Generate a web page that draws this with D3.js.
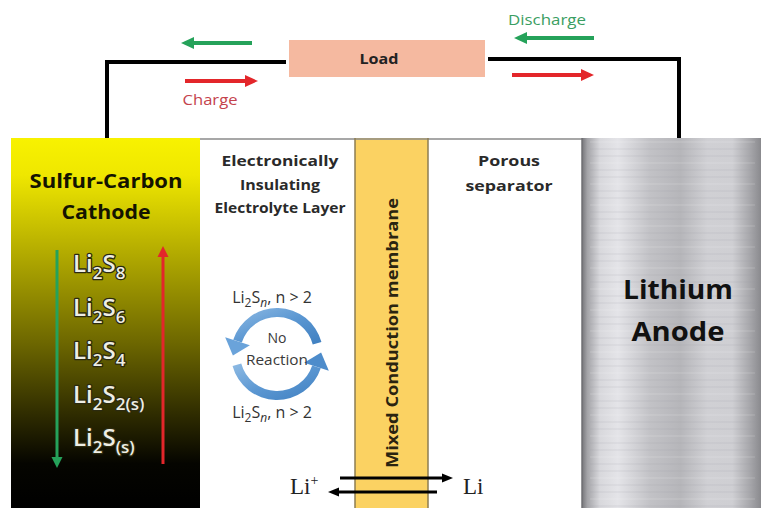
<!DOCTYPE html>
<html><head><meta charset="utf-8">
<script src="https://cdn.jsdelivr.net/npm/d3@7"></script>
<style>html,body{margin:0;padding:0;background:#fff;}svg{display:block;}</style>
</head><body>
<svg id="c" width="761" height="508"></svg>
<script>
// ---- data ----
const layerNames = ["Sulfur-Carbon Cathode", "Electronically Insulating Electrolyte Layer", "Mixed Conduction membrane", "Porous separator", "Lithium Anode"];
const layerThickness = [189, 155, 73, 154, 179];   // relative thickness of each layer
const cathodeTitle = ["Sulfur-Carbon", "Cathode"];
const electrolyteTitle = ["Electronically", "Insulating", "Electrolyte Layer"];
const separatorTitle = ["Porous", "separator"];
const anodeTitle = ["Lithium", "Anode"];
const membraneTitle = "Mixed Conduction membrane";
const speciesSub1 = ["2", "2", "2", "2", "2"];
const speciesSub2 = ["8", "6", "4", "2(s)", "(s)"];
const loadLabel = "Load";
const flowLabels = ["Charge", "Discharge"];
const cycleLabels = ["No", "Reaction"];
const ionLabels = ["Li", "+", "Li"];

const W = 761, H = 508;
const svg = d3.select("#c");
const defs = svg.append("defs");

// gradients
const cg = defs.append("linearGradient").attr("id","cathG").attr("x1",0).attr("y1",0).attr("x2",0).attr("y2",1);
[[0,"#f8f200"],[0.1,"#efe700"],[0.3,"#b6ae00"],[0.55,"#6e6800"],[0.75,"#2e2b00"],[0.88,"#050500"],[1,"#000"]]
  .forEach(s=>cg.append("stop").attr("offset",s[0]).attr("stop-color",s[1]));
const ag = defs.append("linearGradient").attr("id","anG").attr("x1",0).attr("y1",0).attr("x2",1).attr("y2",0);
[[0,"#76767a"],[0.03,"#a4a4a8"],[0.1,"#d8d8dc"],[0.2,"#e4e4e8"],[0.38,"#c2c2c6"],[0.55,"#b6b6ba"],[0.7,"#d0d0d4"],[0.84,"#cfcfd3"],[0.94,"#a6a6aa"],[1,"#8a8a8e"]]
  .forEach(s=>ag.append("stop").attr("offset",s[0]).attr("stop-color",s[1]));
const bg = defs.append("linearGradient").attr("id","blG").attr("x1",0).attr("y1",0).attr("x2",1).attr("y2",1);
[[0,"#8fbbe4"],[0.5,"#5b97d2"],[1,"#3f7fc0"]].forEach(s=>bg.append("stop").attr("offset",s[0]).attr("stop-color",s[1]));

// scales
const cum = [0]; layerThickness.forEach(t=>cum.push(cum[cum.length-1]+t));
const x = d3.scaleLinear().domain([0, cum[cum.length-1]]).range([11, W]);
const cellTop = 138, cellBottom = H;

const FONT = "'Open Sans', Lato, sans-serif";
function fit(sel, len){ return sel.attr("textLength",len).attr("lengthAdjust","spacingAndGlyphs"); }

// helper arrow
function arrow(g, x1, y1, x2, y2, color, sw, hl, hw){
  const dx=x2-x1, dy=y2-y1, L=Math.hypot(dx,dy), ux=dx/L, uy=dy/L;
  const bx=x2-ux*hl, by=y2-uy*hl;
  g.append("line").attr("x1",x1).attr("y1",y1).attr("x2",bx+ux*1).attr("y2",by+uy*1)
    .attr("stroke",color).attr("stroke-width",sw);
  g.append("path").attr("d",`M${x2},${y2}L${bx-uy*hw/2},${by+ux*hw/2}L${bx+uy*hw/2},${by-ux*hw/2}Z`).attr("fill",color);
}

// layers
const lay = svg.append("g");
const fills = ["url(#cathG)", "#ffffff", "#fbd262", "#ffffff", "url(#anG)"];
lay.selectAll("rect").data(layerNames).join("rect")
  .attr("x",(d,i)=>x(cum[i])).attr("y",cellTop)
  .attr("width",(d,i)=>x(cum[i+1])-x(cum[i])).attr("height",cellBottom-cellTop)
  .attr("fill",(d,i)=>fills[i]);
// anode streaks
const streakY = d3.range(cellTop+4, cellBottom, 7);
lay.append("g").selectAll("line").data(streakY).join("line")
  .attr("x1",x(cum[4])+8).attr("x2",W-6).attr("y1",d=>d).attr("y2",d=>d)
  .attr("stroke",(d,i)=> i%3===0 ? "#ffffff" : "#9c9ca0").attr("stroke-opacity",0.2).attr("stroke-width",1);
// borders
lay.append("line").attr("x1",x(cum[1])).attr("x2",x(cum[4])).attr("y1",cellTop+1).attr("y2",cellTop+1)
  .attr("stroke","#8a8a8a").attr("stroke-width",1.5);
[cum[2],cum[3]].forEach(c=>lay.append("line").attr("x1",x(c)).attr("x2",x(c)).attr("y1",cellTop).attr("y2",H)
  .attr("stroke","#8c7d52").attr("stroke-width",1.5));
lay.append("line").attr("x1",x(cum[4])).attr("x2",x(cum[4])).attr("y1",cellTop).attr("y2",H)
  .attr("stroke","#707074").attr("stroke-width",1.5);

// circuit
const circ = svg.append("g");
circ.append("rect").attr("x",289).attr("y",40).attr("width",196).attr("height",37).attr("fill","#f5b9a0");
fit(circ.append("text").attr("x",379).attr("y",64).attr("text-anchor","middle").attr("font-family",FONT)
  .attr("font-weight","bold").attr("font-size",14.5).attr("fill","#222").text(loadLabel), 39);
circ.append("path").attr("d","M107,138V62H286").attr("fill","none").attr("stroke","#000").attr("stroke-width",4);
circ.append("path").attr("d","M488,59H679V138").attr("fill","none").attr("stroke","#000").attr("stroke-width",4);
const green="#25a25a", red="#e3262a";
arrow(circ,252,43,181,43,green,4,13,12);
arrow(circ,185,81,258,81,red,4,13,12);
arrow(circ,594,38,514,38,green,4,13,12);
arrow(circ,512,75,594,75,red,4,13,12);
fit(circ.append("text").attr("x",210).attr("y",105).attr("text-anchor","middle").attr("font-family",FONT)
  .attr("font-size",15).attr("fill","#c4424c").text(flowLabels[0]), 55);
fit(circ.append("text").attr("x",547).attr("y",25).attr("text-anchor","middle").attr("font-family",FONT)
  .attr("font-size",15).attr("fill","#3a9e62").text(flowLabels[1]), 78);

// cathode
const cat = svg.append("g");
const catLen = [153, 89];
cathodeTitle.forEach((t,i)=>fit(cat.append("text").attr("x",106).attr("y",188+i*31).attr("text-anchor","middle")
  .attr("font-family",FONT).attr("font-weight","bold").attr("font-size",20).attr("fill","#141400").text(t), catLen[i]));
arrow(cat,57,250,57,468,green,3,11,11);
arrow(cat,163,464,163,246,red,3,11,11);
const sy = d3.scalePoint().domain(speciesSub2).range([272,446]);
speciesSub2.forEach((s,i)=>{
  const t = cat.append("text").attr("x",73).attr("y",sy(s)).attr("font-family",FONT).attr("font-size",24)
    .attr("font-weight",600)
    .attr("fill","#eeeee4").attr("stroke","#2b2a10").attr("stroke-width",2.6).attr("paint-order","stroke")
    .attr("stroke-linejoin","round");
  t.append("tspan").text("Li");
  t.append("tspan").attr("dy",7).attr("font-size",17).text(speciesSub1[i]);
  t.append("tspan").attr("dy",-7).text("S");
  t.append("tspan").attr("dy",7).attr("font-size",17).text(s);
});

// electrolyte
const el = svg.append("g");
const elLen = [117, 80, 131];
electrolyteTitle.forEach((t,i)=>fit(el.append("text").attr("x",280).attr("y",166+i*23.5).attr("text-anchor","middle")
  .attr("font-family",FONT).attr("font-weight","bold").attr("font-size",15).attr("fill","#2a2a2a").text(t), elLen[i]));
function lisn(yy){
  const t = el.append("text").attr("x",272).attr("y",yy).attr("text-anchor","middle").attr("font-family",FONT)
    .attr("font-size",16).attr("fill","#333");
  t.append("tspan").text("Li");
  t.append("tspan").attr("dy",4).attr("font-size",12).text("2");
  t.append("tspan").attr("dy",-4).text("S");
  t.append("tspan").attr("dy",4).attr("font-size",12).attr("font-style","italic").text("n");
  t.append("tspan").attr("dy",-4).text(", n > 2");
}
lisn(303); lisn(418);
const cx0=277, cy0=354, rI=37, rO=46, rM=(rI+rO)/2;
const arcG = d3.arc().innerRadius(rI).outerRadius(rO);
const cyc = el.append("g").attr("transform",`translate(${cx0},${cy0})`);
const deg = Math.PI/180;
[[75,-72],[255,108]].forEach(([a0,a1])=>{
  cyc.append("path").attr("d",arcG({startAngle:a1*deg,endAngle:a0*deg})).attr("fill","url(#blG)");
  const th=a1*deg, ux=Math.sin(th), uy=-Math.cos(th);
  const px=rM*ux, py=rM*uy, tx=-Math.cos(th), ty=-Math.sin(th);
  const hw=13, hl=15;
  cyc.append("path").attr("d",`M${px+ux*hw},${py+uy*hw}L${px-ux*hw},${py-uy*hw}L${px+tx*hl},${py+ty*hl}Z`)
    .attr("fill", a0===75 ? "#6aa3da" : "#4d8ccb");
});
const cycLen = [19, 62];
cycleLabels.forEach((t,i)=>fit(el.append("text").attr("x",cx0).attr("y",343+i*22).attr("text-anchor","middle")
  .attr("font-family",FONT).attr("font-size",15).attr("fill","#3a3a3a").text(t), cycLen[i]));

// membrane
fit(svg.append("text").attr("transform",`translate(${(x(cum[2])+x(cum[3]))/2+6},333) rotate(-90)`)
  .attr("text-anchor","middle").attr("font-family",FONT).attr("font-weight","bold").attr("font-size",16)
  .attr("fill","#2a2410").text(membraneTitle), 270);

// separator
const sepLen = [62, 87];
separatorTitle.forEach((t,i)=>fit(svg.append("text").attr("x",509).attr("y",166+i*25).attr("text-anchor","middle")
  .attr("font-family",FONT).attr("font-weight","bold").attr("font-size",15).attr("fill","#2a2a2a").text(t), sepLen[i]));

// anode
const anLen = [110, 93];
anodeTitle.forEach((t,i)=>fit(svg.append("text").attr("x",678).attr("y",299+i*42).attr("text-anchor","middle")
  .attr("font-family",FONT).attr("font-weight","bold").attr("font-size",27).attr("fill","#111").text(t), anLen[i]));

// ions
const ion = svg.append("g");
const lt = ion.append("text").attr("x",290).attr("y",494).attr("font-family","'Liberation Serif', serif").attr("font-size",23).attr("fill","#222");
lt.append("tspan").text(ionLabels[0]);
lt.append("tspan").attr("dy",-9).attr("font-size",14).text(ionLabels[1]);
ion.append("text").attr("x",463).attr("y",494).attr("font-family","'Liberation Serif', serif").attr("font-size",23).attr("fill","#222").text(ionLabels[2]);
arrow(ion,340,478,453,478,"#000",3,11,9);
arrow(ion,437,492,328,492,"#000",3,11,9);
</script>
</body></html>
